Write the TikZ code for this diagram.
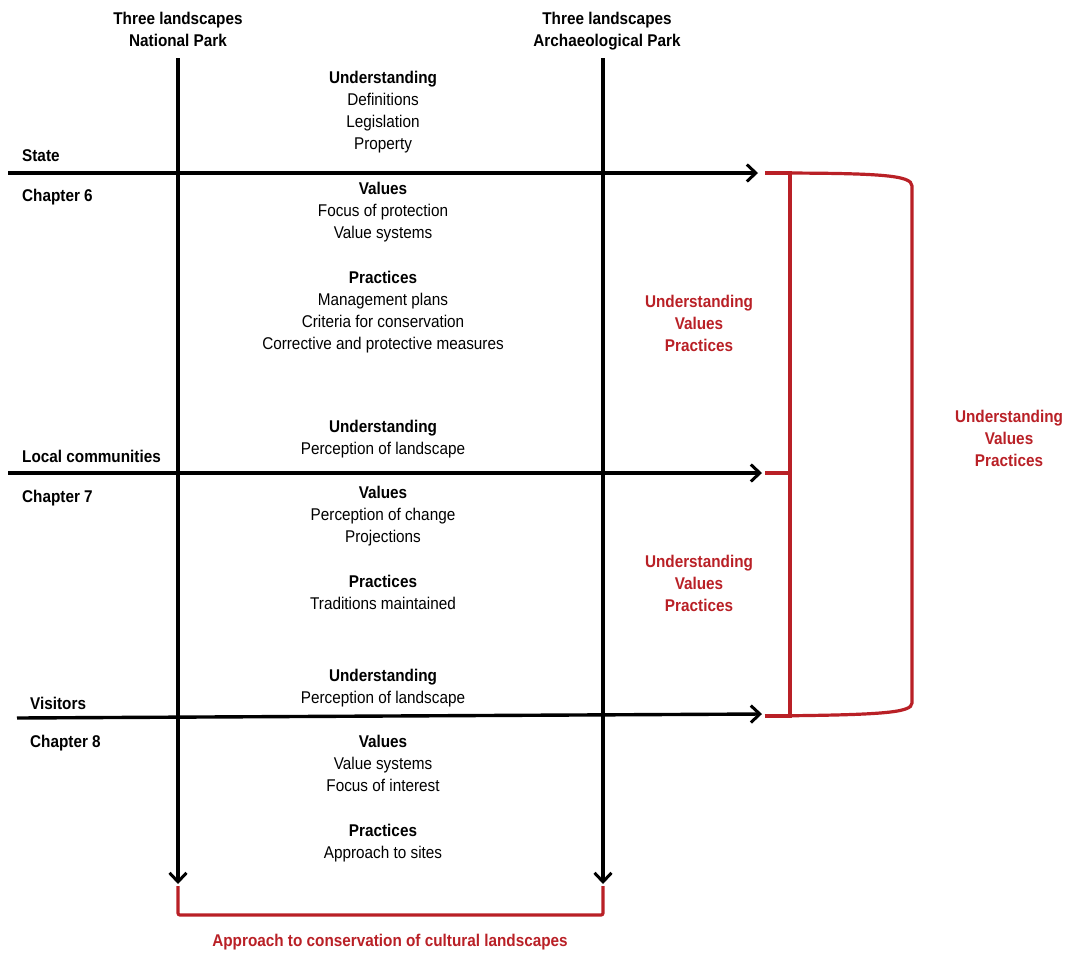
\documentclass[tikz,border=0pt]{standalone}
\usepackage{fontspec}
\setmainfont{Liberation Sans}[FakeStretch=0.9]
\definecolor{brickred}{RGB}{185,32,38}
\usetikzlibrary{
  arrows.meta,
  positioning
}

\begin{document}
\begin{tikzpicture}[x=1pt, y=-1pt,
  txt/.style={font=\fontsize{17}{22}\selectfont, align=center, inner sep=0pt, anchor=north},
  head/.style={txt, font=\fontsize{17}{22}\selectfont\bfseries},
  side/.style={font=\fontsize{17}{22}\selectfont\bfseries, inner sep=0pt, anchor=north west},
  redlbl/.style={head, text=brickred},
  guide/.style={line width=3.4pt, -{Straight Barb[length=9pt, width=17pt, line width=3pt]}},
  redbr/.style={brickred, line width=3.2pt},
]
\useasboundingbox (0,0) rectangle (1070,956);

% Column titles
\node[head] (natpark) at (178, 12) {Three landscapes\\National Park};
\node[head] (arcpark) at (607, 12) {Three landscapes\\Archaeological Park};

% Row labels
\node[side] (state)   at (22, 149) {State};
\node[side] (ch6)     at (22, 189) {Chapter 6};
\node[side] (local)   at (22, 450) {Local communities};
\node[side] (ch7)     at (22, 490) {Chapter 7};
\node[side] (visit)   at (30, 697) {Visitors};
\node[side] (ch8)     at (30, 735) {Chapter 8};

% End points of the guide lines
\coordinate (npTop)  at (178, 58);
\coordinate (npEnd)  at (178, 884);
\coordinate (apTop)  at (603, 58);
\coordinate (apEnd)  at (603, 884);
\coordinate (stL)    at (8, 173);
\coordinate (stR)    at (758, 173);
\coordinate (lcL)    at (8, 473);
\coordinate (lcR)    at (762, 473);
\coordinate (viL)    at (17, 718);
\coordinate (viR)    at (762, 714);

% Guide lines (columns and rows)
\foreach \a/\b in {npTop/npEnd, apTop/apEnd, stL/stR, lcL/lcR, viL/viR} {
  \draw[guide] (\a) -- (\b);
}

% Centre column — State
\node[txt] (und1) at (383, 71)  {\textbf{Understanding}\\Definitions\\Legislation\\Property};
\node[txt] (val1) at (383, 182) {\textbf{Values}\\Focus of protection\\Value systems};
\node[txt] (pra1) at (383, 271) {\textbf{Practices}\\Management plans\\Criteria for conservation\\Corrective and protective measures};

% Centre column — Local communities
\node[txt] (und2) at (383, 420) {\textbf{Understanding}\\Perception of landscape};
\node[txt] (val2) at (383, 486) {\textbf{Values}\\Perception of change\\Projections};
\node[txt] (pra2) at (383, 575) {\textbf{Practices}\\Traditions maintained};

% Centre column — Visitors
\node[txt] (und3) at (383, 669) {\textbf{Understanding}\\Perception of landscape};
\node[txt] (val3) at (383, 735) {\textbf{Values}\\Value systems\\Focus of interest};
\node[txt] (pra3) at (383, 824) {\textbf{Practices}\\Approach to sites};

% Red brackets on the right
\coordinate (brTop) at (765, 173);
\coordinate (brMid) at (765, 473);
\coordinate (brBot) at (765, 716);
\draw[redbr] (brTop) .. controls (880,173) and (912,175) .. (912,186)
  -- (912,703) .. controls (912,713) and (880,715) .. (brBot);
\draw[redbr] (brTop) -| (790,716) -- (brBot);
\draw[redbr] (brMid) -- (790,473);

\node[redlbl] (sum1) at (699, 295) {Understanding\\Values\\Practices};
\node[redlbl] (sum2) at (699, 555) {Understanding\\Values\\Practices};
\node[redlbl] (sum3) at (1009, 410) {Understanding\\Values\\Practices};

% Red bracket at the bottom
\draw[redbr, rounded corners=2pt] (178,886) -- (178,915) -- (603,915) -- (603,886);
\node[redlbl] (appr) at (390, 934) {Approach to conservation of cultural landscapes};

\end{tikzpicture}
\end{document}
